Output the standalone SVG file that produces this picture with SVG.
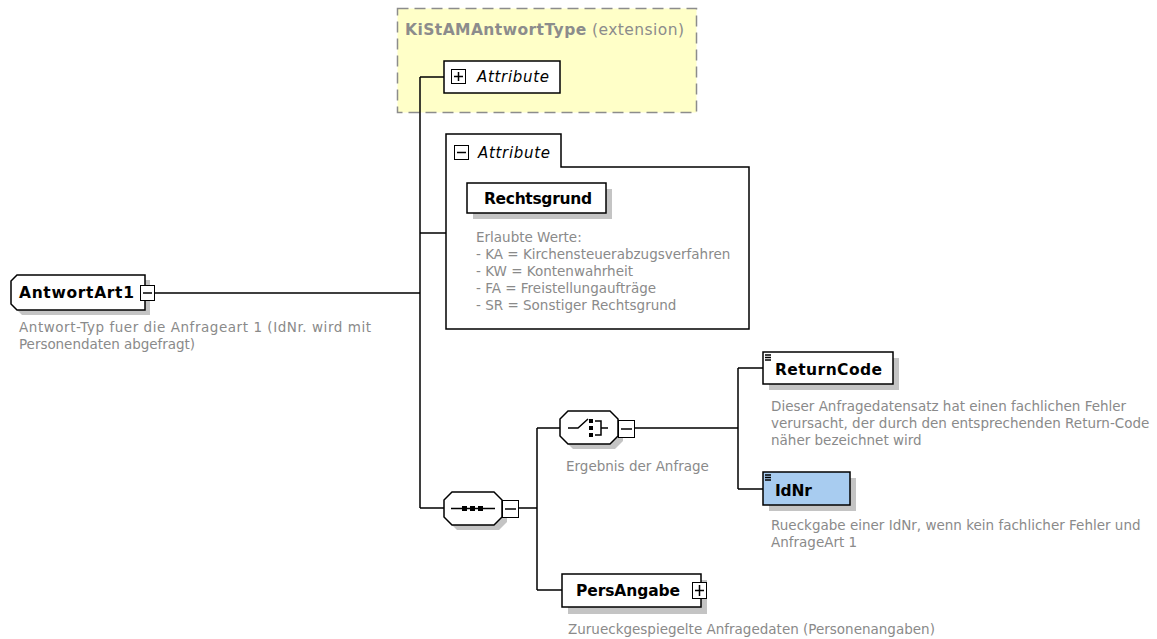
<svg xmlns="http://www.w3.org/2000/svg" width="1157" height="639" viewBox="0 0 1157 639">
<style>
.desc{font-family:"DejaVu Sans",Verdana,sans-serif;font-size:13.5px;fill:#8a8a8a}
.lbl{font-family:"DejaVu Sans",Verdana,sans-serif;font-size:15.5px;font-weight:bold;fill:#000}
.att{font-family:"DejaVu Sans",Verdana,sans-serif;font-size:15px;font-style:italic;fill:#000}
.box{fill:#fff;stroke:#000;stroke-width:1.5}
.sh{fill:#c4c4c4}
.ln{stroke:#000;stroke-width:1.5;fill:none}
.ico{fill:#fff;stroke:#000;stroke-width:1}
</style>
<rect width="1157" height="639" fill="#fff"/>
<g id="extension">
<rect x="397.5" y="8.5" width="299" height="104" fill="#ffffc8" stroke="#8c8c8c" stroke-width="1.5" stroke-dasharray="11,6"/>
<text x="405" y="35" font-family="DejaVu Sans,Verdana,sans-serif" font-size="15.5" fill="#8c8c8c" textLength="279"><tspan font-weight="bold">KiStAMAntwortType</tspan> (extension)</text>
</g>
<g id="connectors">
<path class="ln" d="M155,293 H420 M420,77 V508 M420,77 H444 M420,233 H446 M420,508 H444 M519,508 H537 M537,428 V590 M537,428 H560 M537,590 H562 M635,428 H738 M738,368 V489 M738,368 H763 M738,489 H763"/>
</g>
<g id="attribute-ext">
<rect class="box" x="444" y="61" width="116" height="32"/>
<rect class="ico" x="451.5" y="69.5" width="14" height="14"/>
<path class="ln" stroke-width="1" d="M454,76.5 H463 M458.5,72 V81"/>
<text class="att" x="477" y="82" textLength="72">Attribute</text>
</g>
<g id="attribute-group">
<path class="box" d="M446,134 H561 V167 H749 V329 H446 Z"/>
<rect class="ico" x="454.5" y="145.5" width="14" height="14"/>
<path class="ln" stroke-width="1" d="M457,152.5 H466"/>
<text class="att" x="478" y="158" textLength="72">Attribute</text>
</g>
<g id="Rechtsgrund">
<rect class="sh" x="473" y="189" width="139" height="30"/>
<rect class="box" x="467" y="183" width="139" height="30"/>
<text class="lbl" x="484" y="204" textLength="108">Rechtsgrund</text>
<text class="desc" x="476" y="242">Erlaubte Werte:</text>
<text class="desc" x="476" y="259">- KA = Kirchensteuerabzugsverfahren</text>
<text class="desc" x="476" y="276">- KW = Kontenwahrheit</text>
<text class="desc" x="476" y="293">- FA = Freistellungaufträge</text>
<text class="desc" x="476" y="310">- SR = Sonstiger Rechtsgrund</text>
</g>
<g id="AntwortArt1">
<path class="sh" d="M22,280 H150 V315 H22 L16,309 V286 Z"/>
<path class="box" d="M17,275 H145 V310 H17 L11,304 V281 Z"/>
<text class="lbl" x="19" y="298" textLength="115">AntwortArt1</text>
<rect class="ico" x="140.5" y="285.5" width="14" height="15"/>
<path class="ln" stroke-width="1" d="M143,293 H152"/>
<text class="desc" x="19" y="332" textLength="352">Antwort-Typ fuer die Anfrageart 1 (IdNr. wird mit</text>
<text class="desc" x="19" y="349" textLength="176">Personendaten abgefragt)</text>
</g>
<g id="sequence">
<path class="sh" d="M457,497 H499 L507,505 V522 L499,530 H457 L449,522 V505 Z"/>
<path class="box" d="M452,492 H494 L502,500 V517 L494,525 H452 L444,517 V500 Z"/>
<path class="ln" d="M451,508.5 H495"/>
<rect x="462" y="506" width="5" height="5" fill="#000"/>
<rect x="470" y="506" width="5" height="5" fill="#000"/>
<rect x="478" y="506" width="5" height="5" fill="#000"/>
<rect class="ico" x="502.5" y="500.5" width="16" height="17"/>
<path class="ln" stroke-width="1" d="M505,509 H516"/>
</g>
<g id="choice">
<path class="sh" d="M573,416 H615 L623,424 V441 L615,449 H573 L565,441 V424 Z"/>
<path class="box" d="M568,411 H610 L618,419 V436 L610,444 H568 L560,436 V419 Z"/>
<path class="ln" d="M568,428 H578 L588,419"/>
<rect x="589" y="419" width="4" height="4" fill="#000"/>
<rect x="589" y="426" width="4" height="4" fill="#000"/>
<rect x="589" y="433" width="4" height="4" fill="#000"/>
<path class="ln" d="M595,421 H601 V435 H595 M601,428 H608"/>
<rect class="ico" x="618.5" y="420.5" width="16" height="17"/>
<path class="ln" stroke-width="1" d="M621,429 H632"/>
<text class="desc" x="566" y="471">Ergebnis der Anfrage</text>
</g>
<g id="ReturnCode">
<rect class="sh" x="769" y="358" width="130" height="32"/>
<rect class="box" x="763" y="352" width="130" height="32"/>
<path class="ln" stroke-width="1" d="M765,355 H771 M765,357.5 H771 M765,360 H771"/>
<text class="lbl" x="775" y="375" textLength="107">ReturnCode</text>
<text class="desc" x="771" y="411">Dieser Anfragedatensatz hat einen fachlichen Fehler</text>
<text class="desc" x="771" y="428">verursacht, der durch den entsprechenden Return-Code</text>
<text class="desc" x="771" y="445">näher bezeichnet wird</text>
</g>
<g id="IdNr">
<rect class="sh" x="769" y="478" width="87" height="33"/>
<rect class="box" x="763" y="472" width="87" height="33" style="fill:#a8ccf0"/>
<path class="ln" stroke-width="1" d="M765,475 H771 M765,477.5 H771 M765,480 H771"/>
<text class="lbl" x="775" y="496" textLength="37">IdNr</text>
<text class="desc" x="771" y="530">Rueckgabe einer IdNr, wenn kein fachlicher Fehler und</text>
<text class="desc" x="771" y="547">AnfrageArt 1</text>
</g>
<g id="PersAngabe">
<rect class="sh" x="568" y="580" width="139" height="34"/>
<rect class="box" x="562" y="574" width="139" height="33"/>
<text class="lbl" x="576" y="596" textLength="104">PersAngabe</text>
<rect class="ico" x="692.5" y="582.5" width="14" height="16"/>
<path class="ln" stroke-width="1" d="M695,590.5 H704 M699.5,585 V596"/>
<text class="desc" x="568" y="634">Zurueckgespiegelte Anfragedaten (Personenangaben)</text>
</g>
</svg>
